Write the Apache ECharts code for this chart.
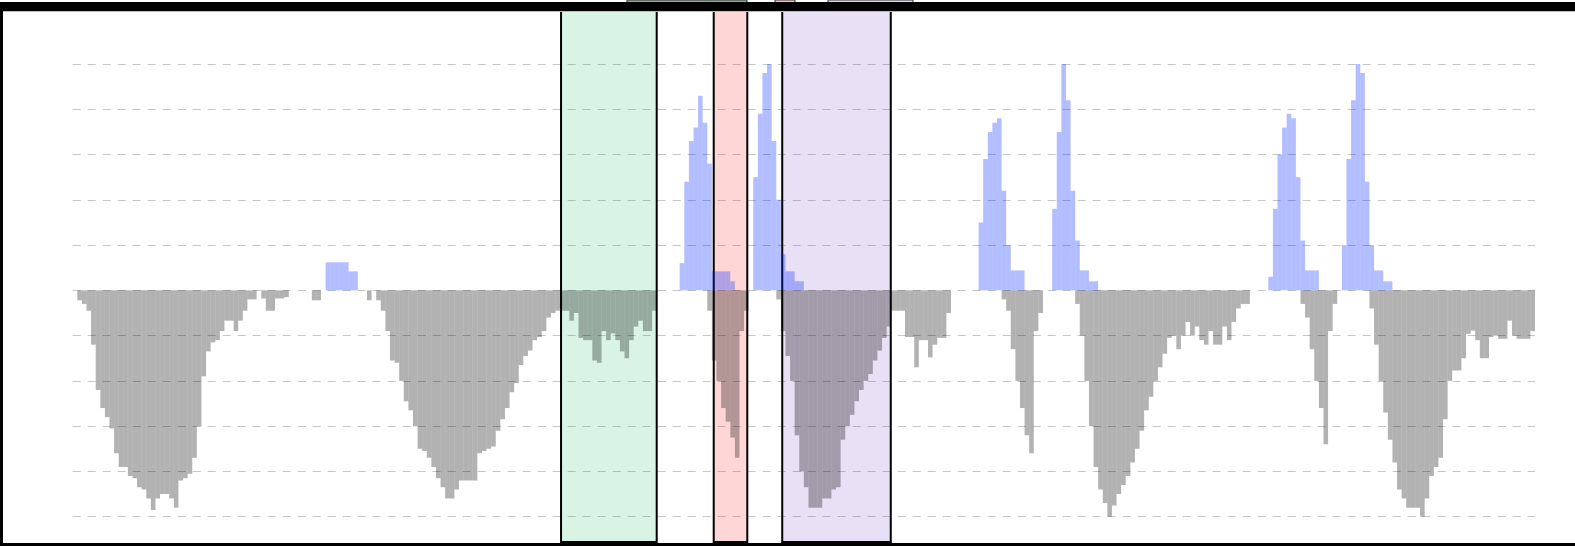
<!DOCTYPE html>
<html>
<head>
<meta charset="utf-8">
<script src="https://cdn.jsdelivr.net/npm/echarts@6/dist/echarts.min.js"></script>
<style>
  html, body { margin: 0; padding: 0; background: #fff; }
  #chart { width: 1575px; height: 546px; }
</style>
</head>
<body>
<div id="chart"></div>
<script>
// Positive values per slot (blue bars)
const pos = [
  0,0,0,0,0,0,0,0,0,0,0,0,0,0,0,0,0,0,0,0,
  0,0,0,0,0,0,0,0,0,0,0,0,0,0,0,0,0,0,0,0,
  0,0,0,0,0,0,0,0,0,0,0,0,0,0,0,0.62,0.62,0.62,0.62,0.62,
  0.42,0.42,0,0,0,0,0,0,0,0,0,0,0,0,0,0,0,0,0,0,
  0,0,0,0,0,0,0,0,0,0,0,0,0,0,0,0,0,0,0,0,
  0,0,0,0,0,0,0,0,0,0,0,0,0,0,0,0,0,0,0,0,
  0,0,0,0,0,0,0,0,0,0,0,0,0.6,2.4,3.3,3.6,4.3,3.7,2.8,0.42,
  0.42,0.42,0.42,0.2,0,0,0,0,2.5,3.9,4.8,5.0,3.3,2.0,0.8,0.42,0.42,0.2,0.2,0,
  0,0,0,0,0,0,0,0,0,0,0,0,0,0,0,0,0,0,0,0,
  0,0,0,0,0,0,0,0,0,0,0,0,0,0,0,0,0,1.5,2.9,3.5,
  3.7,3.8,2.2,1.0,0.44,0.44,0.44,0,0,0,0,0,0,1.8,3.5,5.0,4.2,2.2,1.1,0.44,
  0.44,0.2,0.2,0,0,0,0,0,0,0,0,0,0,0,0,0,0,0,0,0,
  0,0,0,0,0,0,0,0,0,0,0,0,0,0,0,0,0,0,0,0,
  0.3,1.8,3.0,3.6,3.9,3.8,2.5,1.1,0.44,0.44,0.44,0,0,0,0,0,1.0,2.9,4.2,5.0,
  4.8,2.4,1.0,0.44,0.44,0.2,0.2,0,0,0,0,0,0,0,0,0,0,0,0,0,
  0,0,0,0,0,0,0,0,0,0,0,0,0,0,0,0,0,0
];

// Negative values per slot (grey bars)
const neg = [
  0,-0.22,-0.3,-0.45,-1.2,-2.2,-2.6,-2.8,-3.05,-3.6,-3.9,-3.9,-4.1,-4.15,-4.35,-4.4,-4.6,-4.85,-4.6,-4.5,
  -4.5,-4.6,-4.8,-4.2,-4.15,-4.05,-3.7,-3.0,-1.9,-1.35,-1.15,-1.1,-0.9,-0.67,-0.67,-0.9,-0.67,-0.45,-0.2,-0.2,
  0,-0.18,-0.45,-0.45,-0.18,-0.18,-0.15,0,0,0,0,0,-0.22,-0.22,0,0,0,0,0,0,
  0,0,0,0,-0.22,0,-0.22,-0.45,-0.9,-1.55,-1.6,-2.0,-2.45,-2.65,-3.0,-3.5,-3.55,-3.7,-3.9,-4.15,
  -4.35,-4.6,-4.6,-4.4,-4.2,-4.2,-4.2,-4.2,-3.6,-3.55,-3.5,-3.45,-3.1,-2.85,-2.6,-2.25,-2.05,-1.65,-1.45,-1.33,
  -1.1,-1.03,-0.9,-0.6,-0.5,-0.45,-0.45,-0.45,-0.67,-0.5,-1.05,-1.1,-1.1,-1.55,-1.6,-0.9,-1.1,-0.95,-1.1,-1.35,
  -1.5,-1.1,-0.8,-0.67,-0.9,-0.9,-0.45,0,0,0,0,0,0,0,0,0,0,0,-0.45,-1.55,
  -2.0,-2.6,-2.9,-3.25,-3.7,-0.9,-0.45,0,0,0,0,0,0,-0.2,-0.9,-1.45,-2.0,-3.2,-4.0,-4.35,
  -4.8,-4.8,-4.8,-4.6,-4.6,-4.4,-4.35,-3.3,-3.0,-2.75,-2.45,-2.2,-2.0,-1.85,-1.55,-1.33,-1.05,-0.8,-0.45,-0.45,
  -0.45,-1.03,-1.03,-1.7,-1.1,-1.1,-1.48,-1.2,-1.05,-1.05,-0.5,0,0,0,0,0,0,0,0,0,
  0,0,-0.2,-0.45,-1.3,-2.0,-2.6,-3.2,-3.6,-0.9,-0.5,0,0,0,0,0,0,0,-0.3,-1.0,
  -2.0,-3.0,-3.9,-4.4,-4.7,-5.0,-4.75,-4.5,-4.3,-4.1,-3.8,-3.5,-3.1,-2.65,-2.35,-2.0,-1.7,-1.4,-1.05,-1.0,
  -1.3,-1.0,-0.7,-1.0,-0.8,-1.1,-1.2,-0.9,-1.2,-1.2,-0.8,-1.1,-0.7,-0.4,-0.3,-0.3,0,0,0,0,
  0,0,0,0,0,0,0,-0.3,-0.6,-1.3,-2.0,-2.6,-3.4,-0.9,-0.3,0,0,0,0,0,
  0,0,-0.4,-1.2,-2.0,-2.7,-3.3,-3.8,-4.4,-4.6,-4.8,-4.8,-4.8,-5.0,-4.6,-4.1,-3.9,-3.7,-2.85,-2.0,
  -1.77,-1.77,-1.5,-0.96,-0.89,-1.1,-1.5,-1.5,-1.03,-1.0,-1.07,-1.07,-0.67,-1.0,-1.07,-1.07,-1.07,-0.9
];

// Slot labels (axis hidden)
const categories = pos.map((_, i) => String(i));

// Highlighted ranges, in slot units
const bandStart = [106.2, 139.4, 154.3];
const bandEnd = [127.0, 146.7, 177.9];
const bandFill = ['rgba(0,180,80,0.15)', 'rgba(255,0,0,0.16)', 'rgba(100,50,180,0.15)'];

// Value axis ticks
const yTicks = [-5, -4, -3, -2, -1, 0, 1, 2, 3, 4, 5];

const chart = echarts.init(document.getElementById('chart'), null, { renderer: 'canvas' });

const gridLeft = 72.7, gridRight = 40;

chart.setOption({
  animation: false,
  backgroundColor: '#ffffff',
  grid: [
    { left: gridLeft, right: gridRight, top: 64, bottom: 29.3 },
    { left: gridLeft, right: gridRight, top: 11, bottom: 4 }
  ],
  xAxis: [
    {
      type: 'category', gridIndex: 0, data: categories,
      axisLine: { show: false }, axisTick: { show: false }, axisLabel: { show: false },
      splitLine: { show: false }
    },
    {
      type: 'value', gridIndex: 1, min: 0, max: categories.length, show: false
    }
  ],
  yAxis: [
    {
      type: 'value', gridIndex: 0,
      min: yTicks[0], max: yTicks[yTicks.length - 1], interval: 1,
      axisLine: { show: false }, axisTick: { show: false }, axisLabel: { show: false },
      splitLine: { show: true, lineStyle: { color: '#c6c6c6', width: 1, type: [8, 7] } }
    },
    { type: 'value', gridIndex: 1, min: 0, max: 1, show: false }
  ],
  series: [
    {
      type: 'line', xAxisIndex: 1, yAxisIndex: 1, z: 1,
      data: [[0, 0]], showSymbol: false, lineStyle: { opacity: 0 }, silent: true,
      markArea: {
        silent: true,
        data: bandStart.map((s, k) => [
          { xAxis: s, yAxis: 0, itemStyle: { color: bandFill[k], borderColor: '#000', borderWidth: 2 } },
          { xAxis: bandEnd[k], yAxis: 1 }
        ])
      }
    },
    {
      name: 'neg', type: 'bar', xAxisIndex: 0, yAxisIndex: 0, z: 3,
      data: neg, barCategoryGap: '0%', barGap: '-100%',
      itemStyle: { color: 'rgba(0,0,0,0.3)' }
    },
    {
      name: 'pos', type: 'bar', xAxisIndex: 0, yAxisIndex: 0, z: 3,
      data: pos, barCategoryGap: '0%', barGap: '-100%',
      itemStyle: { color: 'rgba(0,40,255,0.3)' }
    }
  ],
  graphic: [
    { type: 'rect', z: 100, shape: { x: 627, y: 0, width: 120, height: 3 }, style: { fill: '#97ab9e', stroke: '#333', lineWidth: 1 } },
    { type: 'rect', z: 100, shape: { x: 775, y: 0, width: 20, height: 3 }, style: { fill: '#f3c4c4', stroke: '#333', lineWidth: 1 } },
    { type: 'rect', z: 100, shape: { x: 828, y: 0, width: 85, height: 3 }, style: { fill: '#e2dbee', stroke: '#333', lineWidth: 1 } },
    { type: 'rect', z: 101, shape: { x: 0, y: 2, width: 1575, height: 9 }, style: { fill: '#000' } },
    { type: 'rect', z: 101, shape: { x: 0, y: 11, width: 1575, height: 1 }, style: { fill: '#bdbdbd' } },
    { type: 'rect', z: 101, shape: { x: 0, y: 2, width: 3, height: 544 }, style: { fill: '#000' } },
    { type: 'rect', z: 101, shape: { x: 0, y: 543, width: 1575, height: 3 }, style: { fill: '#000' } }
  ]
});
</script>
</body>
</html>
